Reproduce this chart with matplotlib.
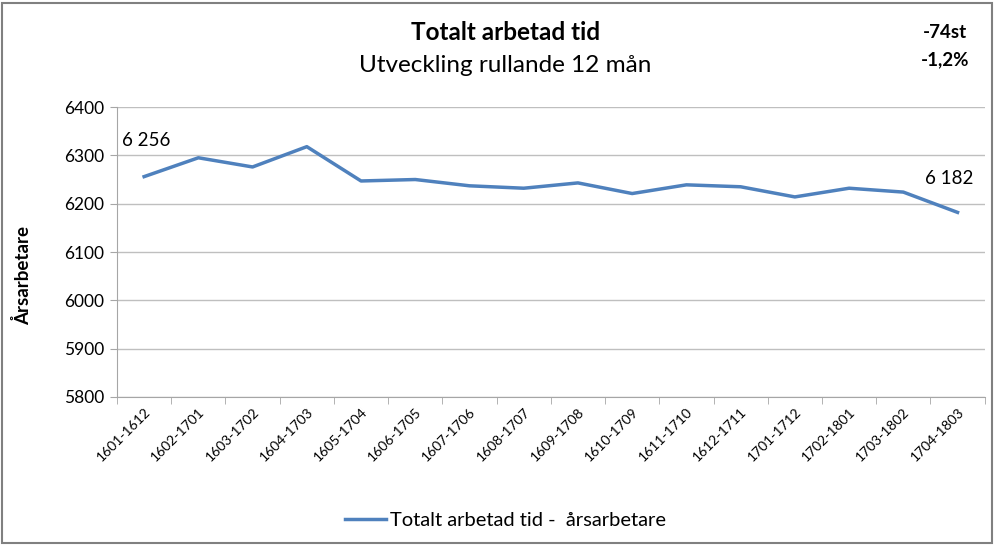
import numpy as np
import matplotlib.pyplot as plt
from matplotlib.ticker import FixedLocator, MultipleLocator

plt.rcParams['font.family'] = ['Lato', 'DejaVu Sans']

perioder = ['1601-1612', '1602-1701', '1603-1702', '1604-1703', '1605-1704',
            '1606-1705', '1607-1706', '1608-1707', '1609-1708', '1610-1709',
            '1611-1710', '1612-1711', '1701-1712', '1702-1801', '1703-1802',
            '1704-1803']
arsarbetare = [6256, 6295, 6276, 6318, 6247, 6250, 6237, 6232, 6243, 6221,
               6239, 6235, 6214, 6232, 6224, 6182]

blue = '#4F81BD'
grey = '#A6A6A6'

fig = plt.figure(figsize=(9.95, 5.45), dpi=100)
ax = fig.add_axes([0.1176, 0.2716, 0.872, 0.532])

x = np.arange(len(perioder))
ax.plot(x, arsarbetare, color=blue, lw=2.5, label='Totalt arbetad tid -  årsarbetare')

ax.set_xlim(-0.5, len(perioder) - 0.5)
ax.set_ylim(5800, 6400)
ax.yaxis.set_major_locator(MultipleLocator(100))
ax.grid(axis='y', color='#BFBFBF', lw=1)
ax.set_axisbelow(True)

ax.set_xticks(x)
ax.set_xticklabels(perioder, rotation=45, ha='right', rotation_mode='anchor', fontsize=10)
ax.tick_params(axis='x', length=0, pad=6)
ax.xaxis.set_minor_locator(FixedLocator(np.arange(-0.5, len(perioder), 1)))
ax.tick_params(axis='x', which='minor', length=5, color=grey)
ax.tick_params(axis='y', labelsize=12.5, length=5, color=grey, pad=4)

for s in ['top', 'right']:
    ax.spines[s].set_visible(False)
for s in ['left', 'bottom']:
    ax.spines[s].set_color(grey)

ax.set_ylabel('Årsarbetare', fontsize=13.5, fontweight='bold')
ax.yaxis.set_label_coords(-0.098, 0.42)

# dataetiketter för första och sista punkten
fmt = lambda v: f'{v:,}'.replace(',', ' ')
ax.annotate(fmt(arsarbetare[0]), (x[0], arsarbetare[0]), xytext=(-16, 20),
            textcoords='offset points', fontsize=13.5, ha='left', va='bottom')
ax.annotate(fmt(arsarbetare[-1]), (x[-1], arsarbetare[-1]), xytext=(-6, 18),
            textcoords='offset points', fontsize=13.5, ha='center', va='bottom')

fig.text(0.508, 0.94, 'Totalt arbetad tid', fontsize=17.5, fontweight='bold', ha='center', va='center')
fig.text(0.508, 0.88, 'Utveckling rullande 12 mån', fontsize=17.5, ha='center', va='center')
fig.text(0.95, 0.94, '-74st', fontsize=13.5, fontweight='bold', ha='center', va='center')
fig.text(0.95, 0.89, '-1,2%', fontsize=13.5, fontweight='bold', ha='center', va='center')

fig.legend(loc='center', bbox_to_anchor=(0.508, 0.045), frameon=False, fontsize=14.5,
           handlelength=2.0, handletextpad=0.2)

fig.patches.append(plt.Rectangle((0.002, 0.003), 0.995, 0.992, transform=fig.transFigure,
                                 fill=False, edgecolor='#808080', lw=1.5))

fig.savefig('out.png', dpi=100)
